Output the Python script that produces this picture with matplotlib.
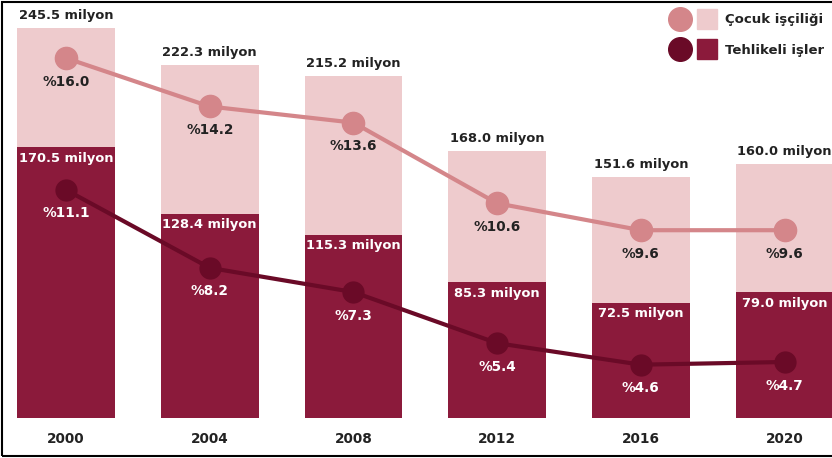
import matplotlib.pyplot as plt
import numpy as np
from matplotlib.lines import Line2D
from matplotlib.patches import Rectangle
from matplotlib.legend_handler import HandlerTuple

years = ['2000', '2004', '2008', '2012', '2016', '2020']
child_labour = [245.5, 222.3, 215.2, 168.0, 151.6, 160.0]
hazardous = [170.5, 128.4, 115.3, 85.3, 72.5, 79.0]
child_pct = [16.0, 14.2, 13.6, 10.6, 9.6, 9.6]
hazard_pct = [11.1, 8.2, 7.3, 5.4, 4.6, 4.7]

light_bar = '#eecbcd'
dark_bar = '#8b1a3b'
light_line = '#d4868a'
dark_line = '#6a0a27'

fig = plt.figure(figsize=(8.32, 4.58), dpi=100)
ax = fig.add_axes([0, 0, 1, 1])
x = np.arange(len(years))

ax.bar(x, child_labour, width=0.68, color=light_bar, zorder=1)
ax.bar(x, hazardous, width=0.68, color=dark_bar, zorder=2)
ax.set_xlim(-0.459, 5.33)
ax.set_ylim(-25.2, 262.9)
ax.axis('off')

for i in range(len(years)):
    ax.annotate(f'{child_labour[i]:.1f} milyon', (x[i], child_labour[i]), xytext=(0, 9),
                textcoords='offset points', ha='center', va='center',
                fontsize=9.4, fontweight='bold', color='#222222')
    ax.annotate(f'{hazardous[i]:.1f} milyon', (x[i], hazardous[i]), xytext=(0, -8),
                textcoords='offset points', ha='center', va='center',
                fontsize=9.4, fontweight='bold', color='white', zorder=5)
    ax.text(x[i], -13, years[i], ha='center', va='center',
            fontsize=9.8, fontweight='bold', color='#222222')

ax2 = ax.twinx()
ax2.set_position([0, 0, 1, 1])
ax2.set_ylim(1.13, 18.16)
ax2.axis('off')
ax2.plot(x, child_pct, color=light_line, lw=3, marker='o', ms=16, zorder=3)
ax2.plot(x, hazard_pct, color=dark_line, lw=3, marker='o', ms=15, zorder=3)
for i in range(len(years)):
    ax2.annotate(f'%{child_pct[i]:.1f}', (x[i], child_pct[i]), xytext=(0, -17),
                 textcoords='offset points', ha='center', va='center',
                 fontsize=9.8, fontweight='bold', color='#222222')
    ax2.annotate(f'%{hazard_pct[i]:.1f}', (x[i], hazard_pct[i]), xytext=(0, -17),
                 textcoords='offset points', ha='center', va='center',
                 fontsize=9.8, fontweight='bold', color='white')

# legend
handles = [
    (Line2D([], [], ls='', marker='o', ms=17, color=light_line),
     Line2D([], [], ls='', marker='s', ms=15, color=light_bar)),
    (Line2D([], [], ls='', marker='o', ms=17, color=dark_line),
     Line2D([], [], ls='', marker='s', ms=15, color=dark_bar)),
]
leg = ax2.legend(handles, ['Çocuk işçiliği', 'Tehlikeli işler'],
                 handler_map={tuple: HandlerTuple(ndivide=None, pad=0.9)},
                 loc='upper right', bbox_to_anchor=(1.005, 0.997), frameon=False,
                 handlelength=3.2, labelspacing=1.35,
                 prop={'weight': 'bold', 'size': 9.5})
for t in leg.get_texts():
    t.set_color('#222222')

fig.patches.append(Rectangle((0.003, 0.005), 1.1, 0.99, transform=fig.transFigure,
                             fill=False, ec='black', lw=1.5))

fig.savefig('out.png', dpi=100)
